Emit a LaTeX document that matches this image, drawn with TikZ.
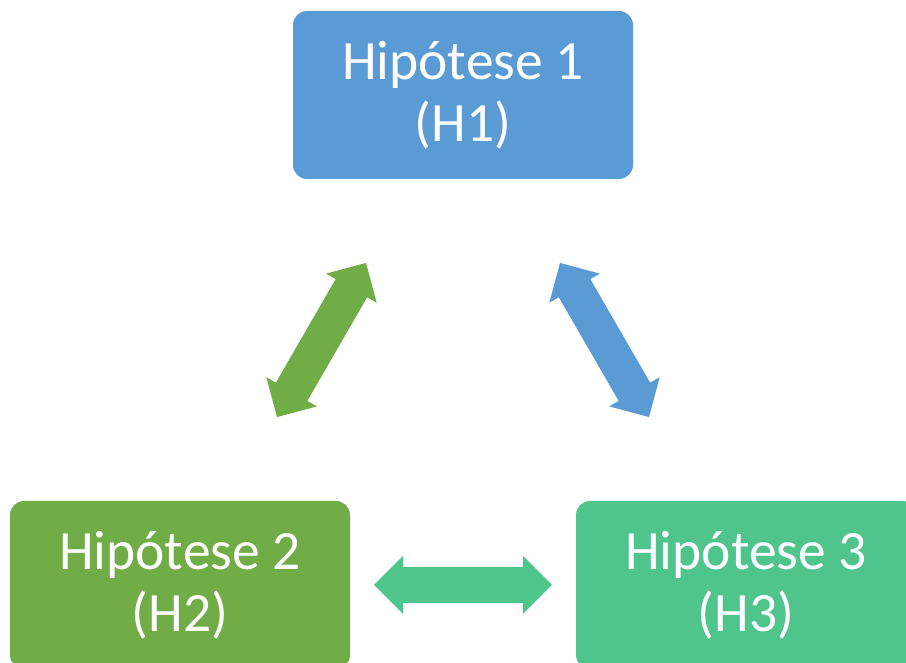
\documentclass[tikz,border=0pt]{standalone}
\usepackage{fontspec}
\setmainfont{Carlito}
\usetikzlibrary{shapes.arrows}
\definecolor{hblue}{HTML}{5B9BD5}
\definecolor{hgreen}{HTML}{70AD47}
\definecolor{hteal}{HTML}{4FC58D}
\begin{document}
\begin{tikzpicture}[x=1pt,y=1pt,
  hbox/.style={rectangle, rounded corners=14pt, minimum width=340pt, minimum height=168pt,
    inner sep=0pt, align=center, text=white, font=\fontsize{55.5}{62}\selectfont},
  dblarrow/.style={double arrow, sloped, minimum height=178pt,
    double arrow head extend=11pt, double arrow tip angle=90,
    inner xsep=0pt, inner ysep=18pt, draw=none, font=\fontsize{1}{1}\selectfont}]
\useasboundingbox (0,0) rectangle (906,663);
\node[hbox, fill=hblue] (h1) at (463,568) {Hipótese 1\\(H1)};
\node[hbox, fill=hgreen] (h2) at (180,78) {Hipótese 2\\(H2)};
\node[hbox, fill=hteal] (h3) at (746,78) {Hipótese 3\\(H3)};
\path (h2.center) -- node[dblarrow, fill=hgreen] (a12) {} (h1.center);
\path (h1.center) -- node[dblarrow, fill=hblue] (a13) {} (h3.center);
\path (h2.center) -- node[dblarrow, fill=hteal] (a23) {} (h3.center);
\end{tikzpicture}
\end{document}
